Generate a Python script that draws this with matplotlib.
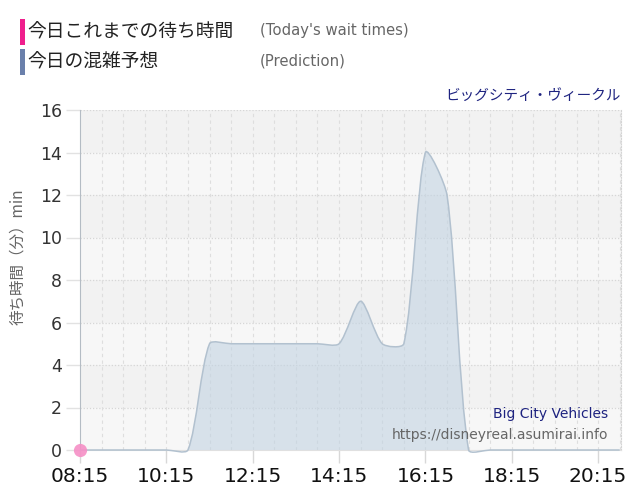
import numpy as np
import matplotlib
matplotlib.use("Agg")
import matplotlib.pyplot as plt
from matplotlib.path import Path
from matplotlib.patches import PathPatch, Rectangle

plt.rcParams['font.family'] = ['DejaVu Sans', 'Noto Sans CJK JP']
JP = ['Noto Sans CJK JP', 'DejaVu Sans']

# データ（30分ごと）
jikan = ["08:15", "08:45", "09:15", "09:45", "10:15", "10:45", "11:15", "11:45",
         "12:15", "12:45", "13:15", "13:45", "14:15", "14:45", "15:15", "15:45",
         "16:15", "16:45", "17:15", "17:45", "18:15", "18:45", "19:15", "19:45",
         "20:15", "20:45"]
yosou = [0, 0, 0, 0, 0, 0, 5, 5,
         5, 5, 5, 5, 5, 7, 5, 5,
         14, 12, 0, 0, 0, 0, 0, 0,
         0, 0]
jisseki_jikan = ["08:15"]
jisseki = [0]
tick_labels = ["08:15", "10:15", "12:15", "14:15", "16:15", "18:15", "20:15"]
y_ticks = [0, 2, 4, 6, 8, 10, 12, 14, 16]


def to_h(s):
    h, m = s.split(":")
    return int(h) + int(m) / 60


def spline_path(ax, xs, ys, tension=0.25):
    # Chart.js風のベジェ曲線（ピクセル空間で制御点を計算）
    pts = ax.transData.transform(np.column_stack([xs, ys]))
    n = len(pts)
    cp_prev, cp_next = [], []
    for i in range(n):
        p0 = pts[max(i - 1, 0)]
        p1 = pts[i]
        p2 = pts[min(i + 1, n - 1)]
        d01 = np.hypot(*(p1 - p0))
        d12 = np.hypot(*(p2 - p1))
        tot = d01 + d12
        s01 = d01 / tot if tot else 0
        s12 = d12 / tot if tot else 0
        cp_prev.append(p1 - tension * s01 * (p2 - p0))
        cp_next.append(p1 + tension * s12 * (p2 - p0))
    verts = [pts[0]]
    codes = [Path.MOVETO]
    for i in range(1, n):
        verts += [cp_next[i - 1], cp_prev[i], pts[i]]
        codes += [Path.CURVE4] * 3
    inv = ax.transData.inverted()
    return [tuple(v) for v in inv.transform(np.array(verts))], codes


x = np.array([to_h(t) for t in jikan])
y = np.array(yosou, dtype=float)

fig = plt.figure(figsize=(6.4, 5.0), dpi=100)
ax = fig.add_axes([80 / 640, 1 - 450 / 500, 541 / 640, 340 / 500])
ax.set_xlim(x[0], 20.78)
ax.set_ylim(0, 16)

# 背景の縞模様
for i, lo in enumerate(y_ticks[:-1]):
    c = '#f7f7f7' if i % 2 == 0 else '#f2f2f2'
    ax.axhspan(lo, lo + 2, color=c, zorder=0, lw=0)

for v in y_ticks[1:]:
    ax.axhline(v, color='#d6d6d6', lw=0.9, ls=(0, (1, 1.5)), zorder=1)
for v in x[1:]:
    ax.axvline(v, color='#dedede', lw=0.8, ls=(0, (3, 3)), zorder=1)

# 予想（面グラフ）
verts, codes = spline_path(ax, x, y)
fill_verts = verts + [(x[-1], 0), (x[0], 0), verts[0]]
fill_codes = codes + [Path.LINETO, Path.LINETO, Path.CLOSEPOLY]
ax.add_patch(PathPatch(Path(fill_verts, fill_codes), facecolor='#c2d3e2',
                       alpha=0.6, edgecolor='none', zorder=2))
ax.add_patch(PathPatch(Path(verts, codes), fill=False, edgecolor='#b2c1cf',
                       lw=1.1, zorder=3, clip_on=False))

# 今日の実績
ax.plot([to_h(t) for t in jisseki_jikan], jisseki, 'o', color='#f58fc6',
        ms=9.5, mec='none', alpha=0.9, zorder=5, clip_on=False)

ax.set_xticks([to_h(t) for t in tick_labels])
ax.set_xticklabels(tick_labels, fontsize=14.5, color='#111111')
ax.set_yticks(y_ticks)
ax.set_yticklabels([str(v) for v in y_ticks], fontsize=12.5, color='#333333')
ax.tick_params(axis='x', length=9, color='#d8d8d8', width=1, pad=3)
ax.tick_params(axis='y', length=10, color='#e2e2e2', width=1, pad=3)

ax.spines['top'].set_visible(False)
ax.spines['right'].set_color('#d4d4d4')
ax.spines['right'].set_linestyle((0, (1, 1.5)))
ax.spines['left'].set_color('#b4bcc4')
ax.spines['bottom'].set_color('#e0e0e0')

# タイトル・注記
ax.text(1.0, 1.04, "ビッグシティ・ヴィークル", transform=ax.transAxes, ha='right',
        va='center', fontsize=10.5, color='#1e2380', family=JP)
ax.text(0.977, 0.105, "Big City Vehicles", transform=ax.transAxes, ha='right',
        va='center', fontsize=10, color='#1e2380')
ax.text(0.977, 0.043, "https://disneyreal.asumirai.info", transform=ax.transAxes,
        ha='right', va='center', fontsize=10, color='#666666')

fig.text(18 / 640, 1 - 257 / 500, "待ち時間（分）min", rotation=90, ha='center',
         va='center', fontsize=11.2, color='#666666', family=JP)

# 凡例（ヘッダー）
fig.add_artist(Rectangle((20 / 640, 1 - 45 / 500), 5 / 640, 26 / 500,
                         transform=fig.transFigure, color='#ef1f8d', lw=0))
fig.add_artist(Rectangle((20 / 640, 1 - 75 / 500), 5 / 640, 26 / 500,
                         transform=fig.transFigure, color='#6a80ab', lw=0))
fig.text(27 / 640, 1 - 32 / 500, "今日これまでの待ち時間", ha='left', va='center',
         fontsize=13.5, color='#222222', family=JP)
fig.text(27 / 640, 1 - 62 / 500, "今日の混雑予想", ha='left', va='center',
         fontsize=13.5, color='#222222', family=JP)
fig.text(260 / 640, 1 - 31 / 500, "(Today's wait times)", ha='left', va='center',
         fontsize=10.7, color='#666666')
fig.text(260 / 640, 1 - 61 / 500, "(Prediction)", ha='left', va='center',
         fontsize=10.7, color='#666666')

fig.savefig("out.png", dpi=100)
